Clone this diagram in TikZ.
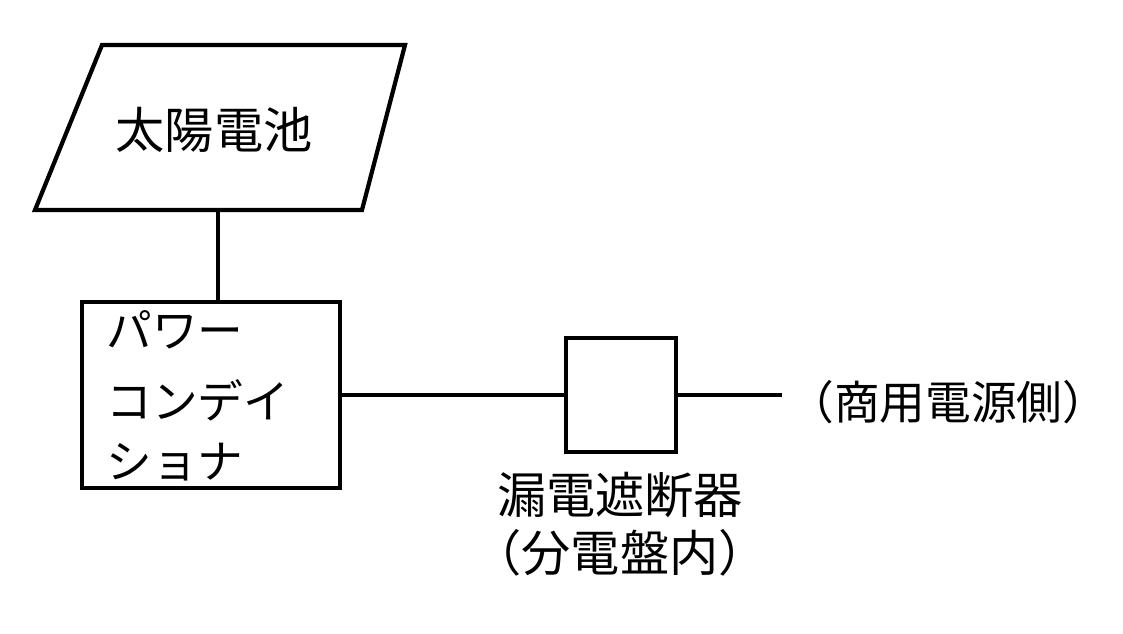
\documentclass[tikz,border=0pt]{standalone}
\usepackage{fontspec}
\setmainfont{Noto Sans CJK JP}
\begin{document}
\begin{tikzpicture}[x=0.02cm,y=-0.02cm,
  box/.style={line width=2.4pt},
  wire/.style={line width=1.8pt},
  lbl/.style={font=\fontsize{28}{34}\selectfont, inner sep=0pt},
  sml/.style={font=\fontsize{26}{32}\selectfont, inner sep=0pt, anchor=west}]
\useasboundingbox (0,0) rectangle (1123,634);
% solar panel
\draw[box] (102,45) -- (405,45) -- (362,210) -- (35,210) -- cycle;
\node[lbl] (sun) at (214,130) {太陽電池};
\coordinate (panel) at (218,210);
% power conditioner
\draw[box] (82,302) rectangle (340,488);
\coordinate (pcs) at (218,302);
\coordinate (pcsR) at (340,395);
\node[sml] (p1) at (106,330) {パワー};
\node[sml] (p2) at (106,400) {コンデイ};
\node[sml] (p3) at (106,462) {ショナ};
% breaker
\draw[box] (566,338) rectangle (676,452);
\coordinate (brL) at (566,395);
\coordinate (brR) at (676,395);
\coordinate (grid) at (782,395);
\node[sml] (mains) at (788,402) {（商用電源側）};
\node[lbl] (brk) at (620,495) {漏電遮断器};
\node[lbl] (brk2) at (620,553) {（分電盤内）};
% wires
\draw[wire] (panel) -- (pcs);
\draw[wire] (pcsR) -- (brL);
\draw[wire] (brR) -- (grid);
\end{tikzpicture}
\end{document}
